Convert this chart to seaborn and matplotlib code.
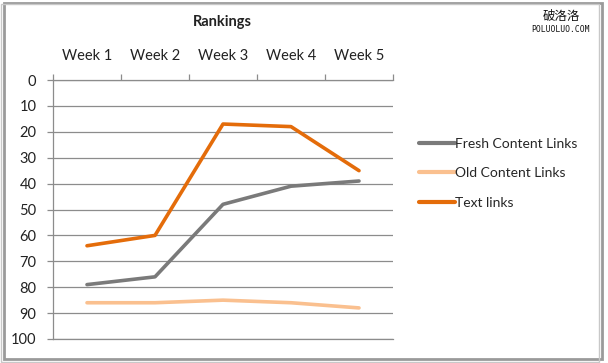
import matplotlib
matplotlib.use("Agg")
import matplotlib.pyplot as plt
import seaborn as sns
import pandas as pd
from matplotlib.patches import Rectangle
from matplotlib.ticker import FixedLocator

weeks = ["Week 1", "Week 2", "Week 3", "Week 4", "Week 5"]
fresh = [79, 76, 48, 41, 39]
old = [86, 86, 85, 86, 88]
text_links = [64, 60, 17, 18, 35]
series_names = ["Fresh Content Links", "Old Content Links", "Text links"]
colors = ["#7a7a7a", "#fac08f", "#e46c0a"]

rows = []
for name, vals in zip(series_names, [fresh, old, text_links]):
    for i, v in enumerate(vals):
        rows.append({"pos": i, "week": weeks[i], "rank": v, "series": name})
df = pd.DataFrame(rows)

sns.set_style("white")
plt.rcParams['font.family'] = ['Lato', 'Noto Sans CJK SC', 'DejaVu Sans']

W, H = 608, 363
fig = plt.figure(figsize=(W / 100, H / 100), dpi=100)
ax = fig.add_axes([53 / W, 1 - 339 / H, 340 / W, 259 / H])

sns.lineplot(data=df, x="pos", y="rank", hue="series", hue_order=series_names,
             palette=colors, linewidth=2.6, ax=ax, legend=True, sort=False)

ax.set_xlim(-0.5, 4.5)
ax.set_ylim(100, 0)
ax.set_yticks(range(0, 101, 10))
ax.yaxis.grid(True, color="#8c8c8c", linewidth=0.9)
ax.xaxis.grid(False)
ax.set_axisbelow(True)
ax.spines["right"].set_visible(False)
for s in ["left", "top", "bottom"]:
    ax.spines[s].set_visible(True)
    ax.spines[s].set_color("#8c8c8c")
    ax.spines[s].set_linewidth(0.9)

ax.xaxis.tick_top()
ax.set_xticks(range(5))
ax.set_xticklabels(weeks)
ax.xaxis.set_minor_locator(FixedLocator([-0.5, 0.5, 1.5, 2.5, 3.5, 4.5]))
ax.tick_params(axis="x", which="major", length=0, pad=12, labelsize=10.5, colors="#222222")
ax.tick_params(axis="x", which="minor", top=True, bottom=False, length=4, color="#8c8c8c", width=0.9)
ax.tick_params(axis="y", which="major", left=True, length=4, color="#8c8c8c", width=0.9,
               labelsize=10.5, labelcolor="#222222", pad=8)
ax.set_xlabel("")
ax.set_ylabel("")

leg = ax.legend(loc="upper left", bbox_to_anchor=(406 / W, 1 - 125 / H), bbox_transform=fig.transFigure,
                frameon=False, fontsize=10, handlelength=2.6, handletextpad=0.05, labelspacing=1.27)
for line in leg.get_lines():
    line.set_linewidth(3)

fig.text(222 / W, 1 - 22 / H, "Rankings", ha="center", va="center", fontsize=10.5, fontweight="bold", color="#222222")
fig.text(561 / W, 1 - 16 / H, "破洛洛", ha="center", va="center", fontsize=9, color="#111111")
fig.text(561 / W, 1 - 29 / H, "POLUOLUO.COM", ha="center", va="center", fontsize=5.8, color="#111111",
         family=["DejaVu Sans Mono", "DejaVu Sans"])

# frame with shadow
fig.patches.append(Rectangle((4 / W, 4 / H), 598 / W, 356 / H, transform=fig.transFigure,
                             facecolor="none", edgecolor="#9a9a9a", linewidth=2.0))
fig.patches.append(Rectangle((1 / W, 1 / H), 598 / W, 358 / H, transform=fig.transFigure,
                             facecolor="none", edgecolor="#c8c8c8", linewidth=1.0))

fig.savefig("out.png", dpi=100)
